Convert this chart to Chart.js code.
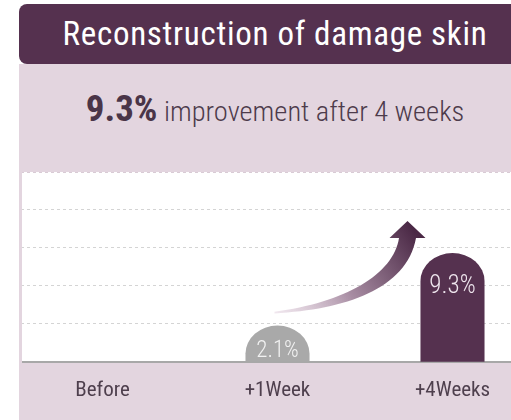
<!DOCTYPE html>
<html>
<head>
<meta charset="utf-8">
<script src="https://cdn.jsdelivr.net/npm/chart.js@4"></script>
<style>
  html, body { margin: 0; padding: 0; background: #ffffff; width: 511px; height: 420px; overflow: hidden; }
  #header { position: absolute; left: 19px; top: 4px; width: 512px; height: 60px; background: #55314f;
            border-radius: 8px 0 0 8px; color: #ffffff; font-family: "Roboto Condensed", sans-serif;
            font-size: 33px; letter-spacing: 0.7px; line-height: 60px; text-align: center; white-space: nowrap; }
  #panel { position: absolute; left: 19px; top: 64px; width: 520px; height: 356px; background: #e3d5df; }
  #sub { position: absolute; left: 19px; top: 89px; width: 512px; height: 40px; line-height: 40px;
         text-align: center; white-space: nowrap; color: #4d3b4b;
         font-family: "Roboto Condensed", sans-serif; font-weight: 300; font-size: 28.5px; }
  #sub b { font-size: 37px; font-weight: bold; color: #4a3548; }
  #plotbg { position: absolute; left: 22px; top: 172px; width: 500px; height: 190px; background: #ffffff; }
  #wrap { position: absolute; left: 22px; top: 150px; width: 489px; height: 270px; overflow: hidden; }
  #c { position: absolute; left: -22px; top: 0; }
</style>
</head>
<body>
<div id="panel"></div>
<div id="header">Reconstruction of damage skin</div>
<div id="sub"><b>9.3%</b> improvement after 4 weeks</div>
<div id="plotbg"></div>
<div id="wrap"><canvas id="c" width="560" height="270"></canvas></div>
<script>
const categories = ["Before", "+1Week", "+4Weeks"];
const improvement = [0, 2.1, 9.3];
const valueLabels = ["", "2.1%", "9.3%"];
const gridSteps = [0, 1, 2, 3, 4, 5];

const barColors = ["#a9a9a9", "#a9a9a9", "#55314f"];
const labelColors = ["#f2f2f2", "#f2f2f2", "#efe6ee"];
const labelSizes = [23, 23, 25];

const domeBars = {
  id: "domeBars",
  beforeDatasetsDraw(chart) {
    const ctx = chart.ctx;
    const meta = chart.getDatasetMeta(0);
    const bars = [];
    meta.data.forEach((el, i) => {
      const p = el.getProps(["x", "y", "base", "width"], true);
      if (!Number.isFinite(p.y) || !Number.isFinite(p.base) || p.base - p.y < 1) return;
      bars[i] = p;
      const rx = p.width / 2;
      const h = p.base - p.y;
      const ry = Math.min(28, h - 6);
      const left = p.x - rx, right = p.x + rx;
      ctx.save();
      ctx.beginPath();
      ctx.moveTo(left, p.base);
      ctx.lineTo(left, p.y + ry);
      ctx.ellipse(p.x, p.y + ry, rx, ry, 0, Math.PI, 2 * Math.PI);
      ctx.lineTo(right, p.base);
      ctx.closePath();
      ctx.fillStyle = barColors[i];
      ctx.fill();
      ctx.fillStyle = labelColors[i];
      ctx.font = '300 ' + labelSizes[i] + 'px "Roboto Condensed", sans-serif';
      ctx.textAlign = "center";
      ctx.textBaseline = "alphabetic";
      ctx.fillText(valueLabels[i], p.x, p.y + Math.min(40, h - 5));
      ctx.restore();
    });
    // decorative growth arrow from the 1-week bar towards the 4-week bar
    const a = bars[1], b = bars[2];
    if (a && b) {
      const tx = a.x - 3, ty = a.y - 13;
      const hx = b.x - 45, hy = b.y - 32;
      const baseY = hy + 17;
      const g = ctx.createLinearGradient(tx, ty, hx, hy);
      g.addColorStop(0, "rgba(226,208,222,0.5)");
      g.addColorStop(0.45, "#a88da3");
      g.addColorStop(1, "#4a2845");
      ctx.save();
      ctx.fillStyle = g;
      ctx.beginPath();
      ctx.moveTo(tx, ty + 0.8);
      ctx.bezierCurveTo(tx + 70, ty - 3, hx - 1, ty - 23, hx + 8.5, baseY);
      ctx.lineTo(hx + 18, baseY);
      ctx.lineTo(hx, hy);
      ctx.lineTo(hx - 18, baseY);
      ctx.lineTo(hx - 8.5, baseY);
      ctx.bezierCurveTo(hx - 14, ty - 38, tx + 70, ty - 10, tx, ty - 0.8);
      ctx.closePath();
      ctx.fill();
      ctx.restore();
    }
    return false;
  }
};

new Chart(document.getElementById("c"), {
  type: "bar",
  data: {
    labels: categories,
    datasets: [{
      data: improvement,
      backgroundColor: barColors,
      categoryPercentage: 1,
      barPercentage: 0.366
    }]
  },
  options: {
    responsive: false,
    animation: false,
    events: [],
    layout: { padding: { left: 15, right: 20, top: 22, bottom: 1 } },
    plugins: { legend: { display: false }, tooltip: { enabled: false }, title: { display: false } },
    scales: {
      x: {
        offset: true,
        grid: { display: false, drawTicks: false },
        border: { display: true, color: "#a8a8a8", width: 2 },
        ticks: {
          padding: 16,
          color: "#4e3f4d",
          font: { family: '"Roboto Condensed", sans-serif', size: 21 }
        }
      },
      y: {
        type: "logarithmic",
        min: 1,
        max: 49,
        display: false
      },
      g: {
        type: "linear",
        position: "left",
        min: gridSteps[0],
        max: gridSteps[gridSteps.length - 1],
        afterBuildTicks(scale) { scale.ticks = gridSteps.map(v => ({ value: v })); },
        ticks: { display: false },
        border: { display: false, dash: [3, 3] },
        grid: {
          drawTicks: false,
          lineWidth: 1,
          color: (c) => c.tick && c.tick.value === 0 ? "rgba(0,0,0,0)" :
                        (c.tick && c.tick.value === 5 ? "#d9cbd5" : "#d4d4d4")
        }
      }
    }
  },
  plugins: [domeBars]
});
</script>
</body>
</html>
